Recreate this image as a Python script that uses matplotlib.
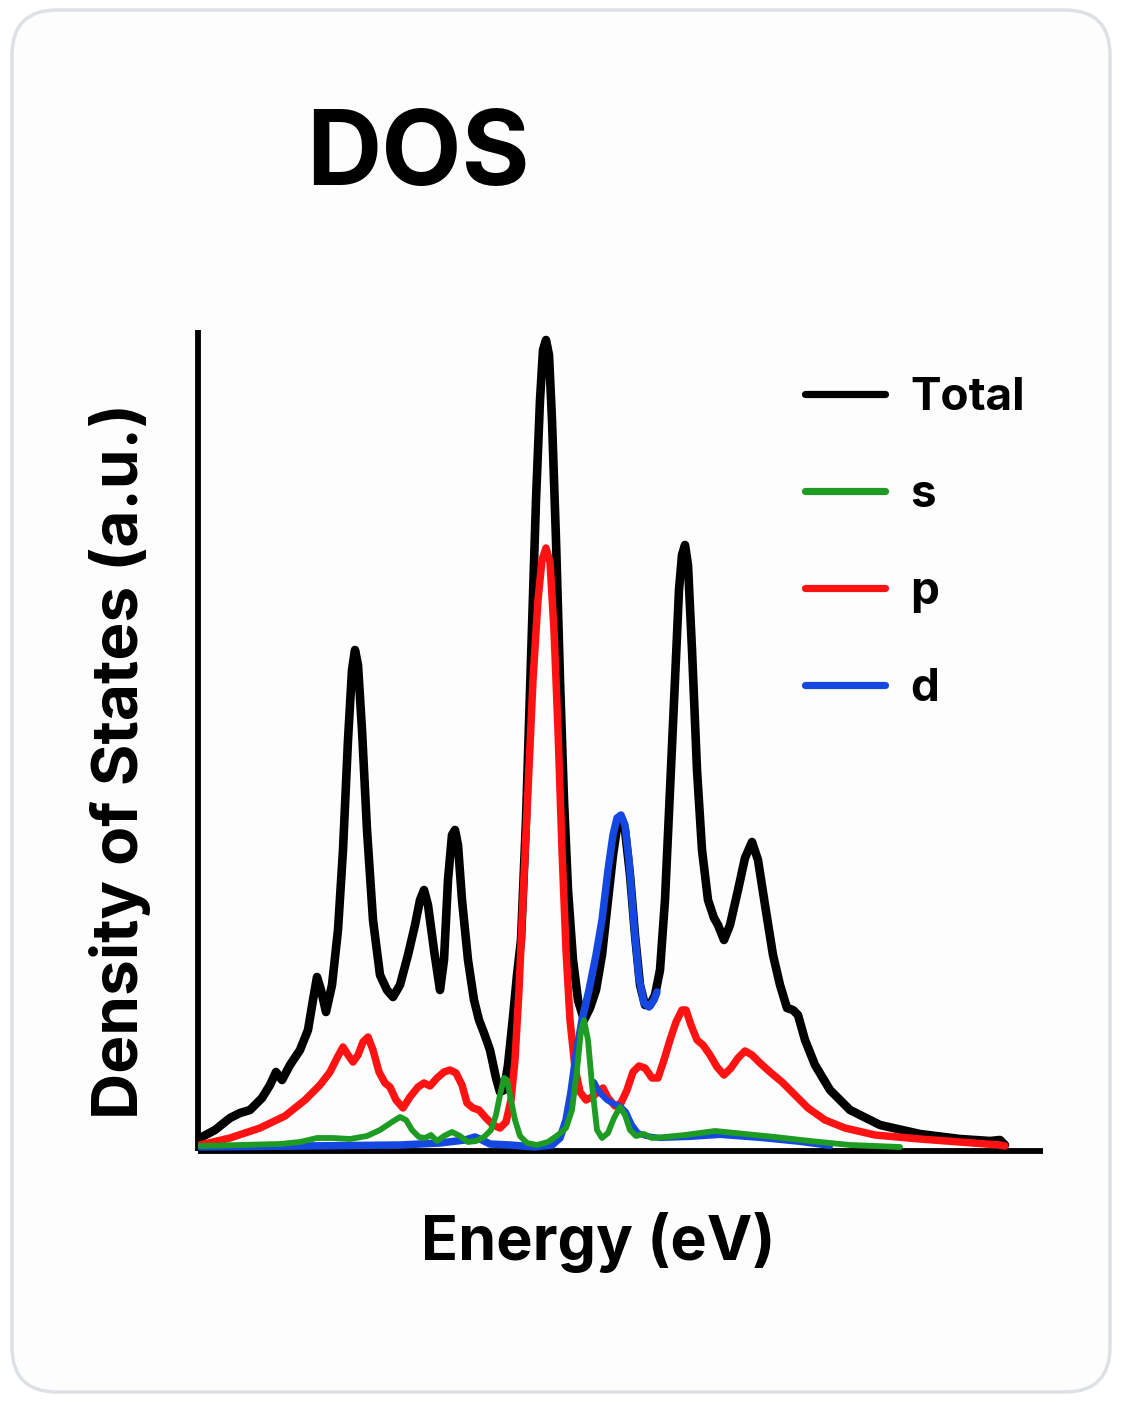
import matplotlib
matplotlib.use("Agg")
import matplotlib.pyplot as plt
from matplotlib.patches import FancyBboxPatch
from matplotlib.lines import Line2D

# ---------------- data (energy in eV, DOS in arbitrary units) ----------------
total_energy = [-6.96, -6.66, -6.36, -6.16, -5.96, -5.72, -5.56, -5.44, -5.32, -5.16,
                -4.96, -4.80, -4.70, -4.62, -4.54, -4.44, -4.32, -4.20, -4.10, -4.00,
                -3.92, -3.86, -3.80, -3.72, -3.62, -3.50, -3.36, -3.22, -3.10, -2.96,
                -2.80, -2.66, -2.56, -2.48, -2.40, -2.28, -2.16, -2.08, -2.00, -1.92,
                -1.86, -1.80, -1.72, -1.60, -1.48, -1.38, -1.28, -1.16, -1.04, -0.96,
                -0.88, -0.80, -0.70, -0.62, -0.54, -0.44, -0.34, -0.24, -0.16, -0.10,
                -0.04, 0.02, 0.08, 0.16, 0.24, 0.32, 0.40, 0.50, 0.60, 0.72,
                0.84, 0.96, 1.08, 1.20, 1.30, 1.38, 1.46, 1.54, 1.64, 1.74,
                1.84, 1.94, 2.04, 2.14, 2.24, 2.34, 2.44, 2.54, 2.62, 2.68,
                2.74, 2.80, 2.88, 2.98, 3.08, 3.20, 3.32, 3.40, 3.52, 3.64,
                3.80, 3.94, 4.08, 4.20, 4.34, 4.50, 4.64, 4.78, 4.90, 5.00,
                5.14, 5.34, 5.64, 6.04, 6.64, 7.44, 8.24, 8.84, 9.04, 9.14]
total_dos = [1.3, 2.1, 3.3, 3.8, 4.1, 5.3, 6.6, 7.9, 7.1, 8.6,
             10.1, 12.1, 15.1, 17.4, 16.1, 13.9, 16.6, 22.1, 30.1, 41.1,
             48.1, 50.1, 48.6, 42.1, 32.1, 23.1, 17.6, 16.1, 15.4, 16.6,
             19.6, 22.6, 25.1, 26.1, 24.6, 20.1, 16.1, 19.1, 27.1, 31.6,
             32.1, 30.6, 25.1, 19.1, 15.1, 13.1, 11.8, 10.1, 7.3, 5.9,
             6.1, 8.6, 13.4, 17.6, 21.1, 33.1, 49.1, 65.1, 75.1, 80.1,
             81.1, 79.6, 73.1, 61.1, 47.1, 35.1, 26.1, 19.1, 15.1, 13.1,
             14.3, 16.1, 19.6, 25.1, 29.6, 32.3, 33.1, 32.1, 27.6, 21.6,
             16.6, 14.6, 14.6, 15.6, 18.1, 25.1, 36.1, 47.1, 56.1, 59.6,
             60.6, 58.6, 50.1, 38.1, 30.1, 25.1, 23.3, 22.6, 21.1, 22.6,
             26.1, 29.3, 30.9, 29.1, 24.6, 19.6, 16.6, 14.3, 14.1, 13.6,
             11.1, 8.6, 6.1, 4.1, 2.6, 1.7, 1.2, 1.0, 1.1, 0.6]

s_energy = [-6.96, -6.16, -5.36, -4.96, -4.62, -4.30, -3.96, -3.62, -3.36, -3.12,
            -2.96, -2.84, -2.72, -2.58, -2.46, -2.34, -2.22, -2.08, -1.92, -1.76,
            -1.60, -1.44, -1.28, -1.14, -1.04, -0.96, -0.88, -0.82, -0.74, -0.66,
            -0.56, -0.42, -0.22, 0.00, 0.20, 0.36, 0.48, 0.58, 0.66, 0.72,
            0.80, 0.88, 0.98, 1.08, 1.20, 1.32, 1.44, 1.54, 1.64, 1.76,
            1.92, 2.08, 2.34, 2.74, 3.34, 3.94, 4.54, 5.24, 6.04, 7.04]
s_dos = [0.5, 0.6, 0.7, 0.9, 1.3, 1.3, 1.2, 1.5, 2.1, 2.9,
         3.4, 3.1, 2.1, 1.4, 1.3, 1.6, 1.0, 1.5, 1.9, 1.5,
         0.9, 1.0, 1.4, 2.1, 3.6, 5.6, 7.3, 7.1, 5.1, 3.1,
         1.5, 0.8, 0.6, 0.9, 1.6, 2.3, 4.1, 8.1, 12.1, 13.1,
         11.1, 6.6, 2.1, 1.3, 1.8, 3.3, 4.4, 3.6, 2.1, 1.5,
         1.7, 1.3, 1.4, 1.6, 2.0, 1.7, 1.4, 1.0, 0.6, 0.4]

p_energy = [-6.96, -6.36, -5.76, -5.26, -4.86, -4.56, -4.36, -4.22, -4.10, -4.00,
            -3.90, -3.80, -3.70, -3.60, -3.50, -3.38, -3.26, -3.16, -3.04, -2.90,
            -2.76, -2.60, -2.48, -2.36, -2.22, -2.08, -1.96, -1.84, -1.72, -1.62,
            -1.50, -1.38, -1.24, -1.10, -0.96, -0.84, -0.74, -0.66, -0.58, -0.50,
            -0.40, -0.30, -0.20, -0.12, -0.04, 0.04, 0.12, 0.20, 0.28, 0.36,
            0.44, 0.54, 0.64, 0.76, 0.88, 1.00, 1.10, 1.20, 1.34, 1.46,
            1.58, 1.70, 1.82, 1.94, 2.08, 2.20, 2.32, 2.44, 2.56, 2.68,
            2.76, 2.86, 2.98, 3.10, 3.24, 3.38, 3.52, 3.66, 3.80, 3.94,
            4.08, 4.24, 4.44, 4.68, 4.94, 5.20, 5.54, 5.94, 6.54, 7.44,
            8.24, 9.04, 9.14]
p_dos = [0.6, 1.3, 2.3, 3.5, 5.1, 6.6, 7.9, 9.3, 10.4, 9.6,
         8.9, 9.6, 10.9, 11.4, 10.1, 7.9, 6.8, 6.4, 5.1, 4.3,
         5.4, 6.4, 6.8, 6.5, 7.3, 7.9, 8.1, 7.8, 6.6, 4.8,
         4.3, 4.1, 3.3, 2.6, 2.3, 2.9, 5.1, 9.1, 16.1, 25.1,
         36.1, 47.1, 55.1, 59.1, 60.3, 58.9, 52.1, 42.1, 30.1, 20.1,
         13.1, 8.3, 5.9, 5.1, 5.4, 5.9, 6.3, 5.3, 4.5, 4.8,
         6.1, 7.9, 8.5, 8.3, 7.3, 7.3, 9.1, 11.1, 12.9, 14.1,
         14.1, 12.6, 11.1, 10.6, 9.6, 8.4, 7.6, 8.3, 9.3, 10.0,
         9.6, 8.8, 7.9, 6.9, 5.6, 4.3, 3.1, 2.3, 1.6, 1.2,
         0.9, 0.6, 0.5]

d_energy_main = [-6.96, -4.96, -2.96, -2.16, -1.66, -1.46, -1.32, -1.16, -0.76, -0.26,
                 0.08, 0.24, 0.36, 0.46, 0.56, 0.68, 0.82, 0.96, 1.08, 1.20,
                 1.30, 1.38, 1.46, 1.54, 1.62, 1.72, 1.82, 1.92, 2.02, 2.12, 2.18]
d_dos_main = [0.4, 0.5, 0.6, 0.8, 1.1, 1.4, 1.1, 0.7, 0.6, 0.4,
              0.6, 1.3, 3.1, 5.9, 9.6, 13.1, 16.1, 19.6, 23.1, 28.1,
              31.6, 33.3, 33.6, 32.6, 29.1, 22.6, 17.3, 14.8, 14.4, 15.1, 15.9]
d_energy_tail = [0.92, 1.04, 1.18, 1.32, 1.44, 1.56, 1.68, 1.80, 1.96, 2.24,
                 2.84, 3.44, 4.24, 5.04, 5.64]
d_dos_tail = [6.9, 5.8, 5.1, 4.7, 4.5, 3.9, 2.6, 1.8, 1.5, 1.3,
              1.4, 1.6, 1.3, 0.9, 0.5]

labels = ["Total", "s", "p", "d"]
colors = {"Total": "#000000", "s": "#1e9b23", "p": "#ff1212", "d": "#1448e0"}

# ---------------- figure ----------------
plt.rcParams["font.family"] = ["Inter", "DejaVu Sans"]
fig = plt.figure(figsize=(11.22, 14.02), dpi=100)
fig.patch.set_facecolor("white")

card = FancyBboxPatch((0.12, 0.10), 10.98, 13.82,
                      boxstyle="round,pad=0,rounding_size=0.45",
                      transform=fig.dpi_scale_trans,
                      facecolor="#fdfdfd", edgecolor="#dde0e5",
                      linewidth=2.5, zorder=0)
fig.add_artist(card)

ax = fig.add_axes([0.17647, 0.17903, 0.75312, 0.58559])
ax.set_facecolor("none")
ax.set_xlim(-7.0, 9.9)
ax.set_ylim(0, 82.1)
for side in ("top", "right"):
    ax.spines[side].set_visible(False)
for side in ("left", "bottom"):
    ax.spines[side].set_linewidth(4.2)
    ax.spines[side].set_color("black")
    ax.spines[side].set_capstyle("butt")
ax.set_xticks([])
ax.set_yticks([])

kw = dict(solid_joinstyle="round", solid_capstyle="round")
ax.plot(total_energy, total_dos, color=colors["Total"], lw=6.2, zorder=2, **kw)
ax.plot(p_energy, p_dos, color=colors["p"], lw=5.4, zorder=3, **kw)
ax.plot(d_energy_main, d_dos_main, color=colors["d"], lw=5.4, zorder=4, **kw)
ax.plot(d_energy_tail, d_dos_tail, color=colors["d"], lw=4.4, zorder=4, **kw)
ax.plot(s_energy, s_dos, color=colors["s"], lw=4.2, zorder=5, **kw)

handles = [Line2D([], [], color=colors[k], lw=5.2, solid_capstyle="round") for k in labels]
leg = ax.legend(handles, labels, loc="upper left",
                bbox_to_anchor=(805 / 1122, 1 - 377 / 1402),
                bbox_transform=fig.transFigure,
                frameon=False, borderpad=0, borderaxespad=0,
                handlelength=1.75, handletextpad=0.55, labelspacing=1.2,
                prop={"family": ["Inter", "DejaVu Sans"], "weight": "bold", "size": 33})

fig.text(418 / 1122, 1 - 185 / 1402, "DOS", ha="center", va="baseline",
         fontsize=75, fontweight="bold")
fig.text(598 / 1122, 1 - 1260 / 1402, "Energy (eV)", ha="center", va="baseline",
         fontsize=44, fontweight="bold")
fig.text(120 / 1122, 1 - 761 / 1402, "Density of States (a.u.)", ha="center",
         va="center", rotation=90, fontsize=46, fontweight="bold")

fig.savefig("out.png", dpi=100, facecolor="white")
